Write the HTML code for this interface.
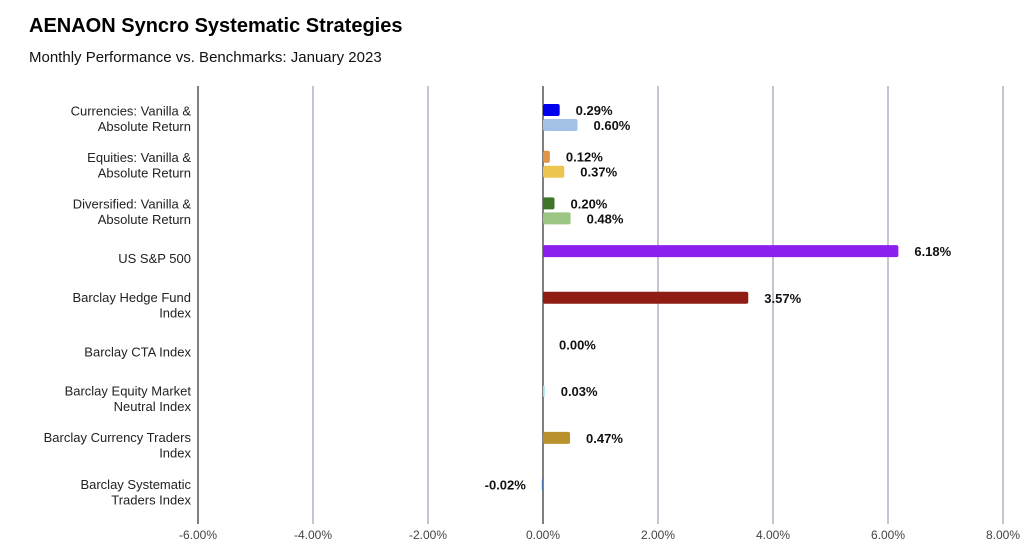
<!DOCTYPE html>
<html><head><meta charset="utf-8"><style>
html,body{margin:0;padding:0;background:#fff;}
svg{display:block;font-family:"Liberation Sans",Arial,sans-serif;}
</style></head><body>
<svg id="chart" width="1024" height="559">
<text x="29" y="32" font-size="20" font-weight="bold" fill="#000">AENAON Syncro Systematic Strategies</text>
<text x="29" y="62" font-size="15" fill="#111">Monthly Performance vs. Benchmarks: January 2023</text>
<g id="grid"></g><g id="bars"></g><g id="labels"></g>
</svg>
<script>
const categories = [["Currencies: Vanilla &","Absolute Return"],["Equities: Vanilla &","Absolute Return"],["Diversified: Vanilla &","Absolute Return"],["US S&P 500"],["Barclay Hedge Fund","Index"],["Barclay CTA Index"],["Barclay Equity Market","Neutral Index"],["Barclay Currency Traders","Index"],["Barclay Systematic","Traders Index"]];
const vanillaValues = [0.29, 0.12, 0.20, null, null, null, null, null, null];
const absoluteValues = [0.60, 0.37, 0.48, null, null, null, null, null, null];
const benchmarkValues = [null, null, null, 6.18, 3.57, 0.00, 0.03, 0.47, -0.02];
const tickValues = [-6, -4, -2, 0, 2, 4, 6, 8];
const tickLabels = ["-6.00%","-4.00%","-2.00%","0.00%","2.00%","4.00%","6.00%","8.00%"];
const vanillaColors = ["#0000ee","#e0954b","#3f7528"];
const absoluteColors = ["#a4c2e8","#ecc651","#9cc483"];
const benchColors = [null,null,null,"#8b1ff0","#8f1d14","#888","#9fe0ea","#b9922e","#4a6fa5"];
const NS="http://www.w3.org/2000/svg";
const x0=198,x1=1003,xmin=-6,xmax=8;
const xs=v=>x0+(v-xmin)/(xmax-xmin)*(x1-x0);
const rowY=i=>118+i*46.7;
const grid=document.getElementById('grid'),bars=document.getElementById('bars'),labs=document.getElementById('labels');
function mk(tag,attrs,parent){const e=document.createElementNS(NS,tag);for(const k in attrs)e.setAttribute(k,attrs[k]);parent.appendChild(e);return e;}
tickValues.forEach((t,i)=>{
  const l=mk('line',{x1:xs(t),x2:xs(t),y1:86,y2:524,stroke:(t===0||i===0)?'#555':'#9aa1b3','stroke-width':(t===0||i===0)?1.5:1.2},grid);
  
  
  const tx=mk('text',{x:xs(t),y:539,'text-anchor':'middle','font-size':12,fill:'#444'},grid);
  tx.textContent=tickLabels[i];
  
  
});
categories.forEach((c,i)=>{
  const cy=rowY(i);
  const n=c.length;
  c.forEach((line,j)=>{
    const t=mk('text',{x:191,y:cy+(j-(n-1)/2)*15.5+5,'text-anchor':'end','font-size':13,fill:'#222'},labs);
    t.textContent=line;
    
    
  });
});
function bar(v,y,color,name){
  if(v===null)return;
  const a=xs(0),b=xs(v);
  const w=Math.abs(b-a);
  if(w>0.1){
    const r=mk('rect',{x:Math.min(a,b),y:y,width:Math.max(w,1.5),height:12,rx:2,fill:color},bars);
    
    
  }
  const t=mk('text',{x:v<0?Math.min(a,b)-16:Math.max(a,b)+16,y:y+11,'text-anchor':v<0?'end':'start','font-size':13,'font-weight':'bold',fill:'#111'},labs);
  t.textContent=v.toFixed(2)+'%';
  
  
}
categories.forEach((c,i)=>{
  const cy=rowY(i);
  bar(vanillaValues[i],cy-14,vanillaColors[i],'bar-vanilla');
  bar(absoluteValues[i],cy+1,absoluteColors[i],'bar-absolute-return');
  bar(benchmarkValues[i],cy-13,benchColors[i],'bar-benchmark');
});
</script>
</body></html>
